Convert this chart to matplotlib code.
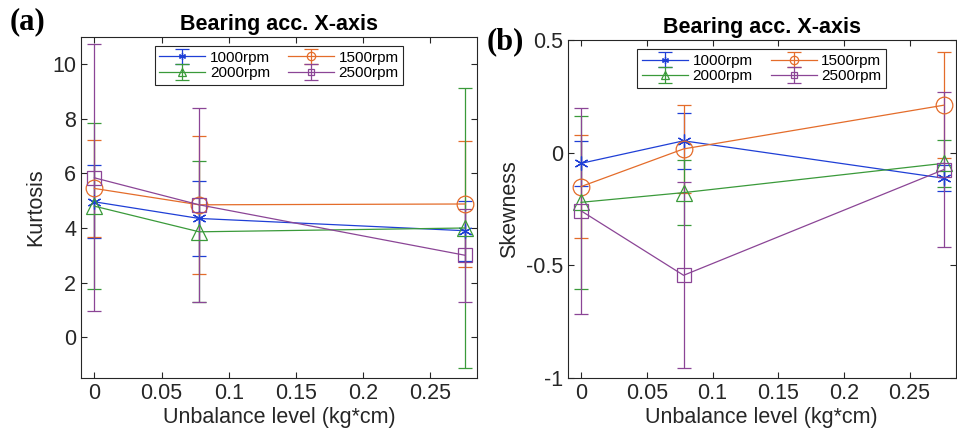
import numpy as np
import matplotlib.pyplot as plt
from matplotlib.ticker import FormatStrFormatter

plt.rcParams['font.family'] = ['Liberation Sans', 'DejaVu Sans']

# Data
unbalance = [0, 0.078, 0.276]
speeds = ['1000rpm', '1500rpm', '2000rpm', '2500rpm']

kurt_1000 = [4.96, 4.35, 3.90]
kurt_1500 = [5.45, 4.85, 4.88]
kurt_2000 = [4.80, 3.86, 4.00]
kurt_2500 = [5.84, 4.85, 3.00]
kurt_err_1000 = [1.34, 1.37, 1.10]
kurt_err_1500 = [1.78, 2.52, 2.30]
kurt_err_2000 = [3.05, 2.59, 5.15]
kurt_err_2500 = [4.90, 3.55, 1.70]

skew_1000 = [-0.047, 0.053, -0.113]
skew_1500 = [-0.150, 0.017, 0.211]
skew_2000 = [-0.220, -0.177, -0.047]
skew_2500 = [-0.258, -0.544, -0.075]
skew_err_1000 = [0.100, 0.124, 0.059]
skew_err_1500 = [0.230, 0.195, 0.236]
skew_err_2000 = [0.385, 0.145, 0.103]
skew_err_2500 = [0.456, 0.413, 0.345]

colors = ['#1f3fd6', '#e46c2a', '#3a9a3a', '#8b4596']
markers = [(6, 2, 0), 'o', '^', 's']
msizes = [10, 12, 12, 10]

fig = plt.figure(figsize=(9.57, 4.36), dpi=100)
ax1 = fig.add_axes([0.0846, 0.133, 0.414, 0.782])
ax2 = fig.add_axes([0.5935, 0.133, 0.405, 0.775])


def draw(ax, means, errs, ylim, yticks, ylabel):
    conts = []
    for i in range(4):
        c = ax.errorbar(unbalance, means[i], yerr=errs[i], color=colors[i],
                        marker=markers[i], ms=msizes[i], mfc='none',
                        mew=0.9, lw=0.9, elinewidth=0.9, capsize=5,
                        label=speeds[i])
        conts.append(c)
    ax.set_xlim(-0.01, 0.285)
    ax.set_ylim(*ylim)
    ax.set_xticks([0, 0.05, 0.1, 0.15, 0.2, 0.25])
    ax.set_yticks(yticks)
    ax.xaxis.set_major_formatter(FormatStrFormatter('%g'))
    ax.yaxis.set_major_formatter(FormatStrFormatter('%g'))
    ax.tick_params(direction='in', top=True, right=True, labelsize=15.5,
                   colors='#262626', length=4, width=0.8)
    for s in ax.spines.values():
        s.set_color('#262626')
        s.set_linewidth(0.8)
    ax.set_xlabel('Unbalance level (kg*cm)', fontsize=15.5, color='#262626',
                  labelpad=2)
    ax.set_ylabel(ylabel, fontsize=15.5, color='#262626')
    ax.set_title('Bearing acc. X-axis', fontsize=15.5, fontweight='bold', pad=5)
    # row-wise order: 1000 1500 / 2000 2500
    order = [0, 2, 1, 3]
    leg = ax.legend([conts[k] for k in order], [speeds[k] for k in order],
                    loc='upper center', ncol=2, fontsize=11, markerscale=0.5,
                    fancybox=False, edgecolor='#262626', framealpha=1,
                    handlelength=3, handletextpad=0.3, columnspacing=1.2,
                    labelspacing=0.1, borderpad=0.3, borderaxespad=0.6)
    leg.get_frame().set_linewidth(0.8)


draw(ax1, [kurt_1000, kurt_1500, kurt_2000, kurt_2500],
     [kurt_err_1000, kurt_err_1500, kurt_err_2000, kurt_err_2500],
     (-1.5, 11), [0, 2, 4, 6, 8, 10], 'Kurtosis')
draw(ax2, [skew_1000, skew_1500, skew_2000, skew_2500],
     [skew_err_1000, skew_err_1500, skew_err_2000, skew_err_2500],
     (-1, 0.5), [-1, -0.5, 0, 0.5], 'Skewness')

fig.text(0.01, 0.95, '(a)', fontsize=22, fontweight='bold',
         family='Liberation Serif', va='center')
fig.text(0.508, 0.904, '(b)', fontsize=22, fontweight='bold',
         family='Liberation Serif', va='center')

fig.savefig('out.png', dpi=100)
